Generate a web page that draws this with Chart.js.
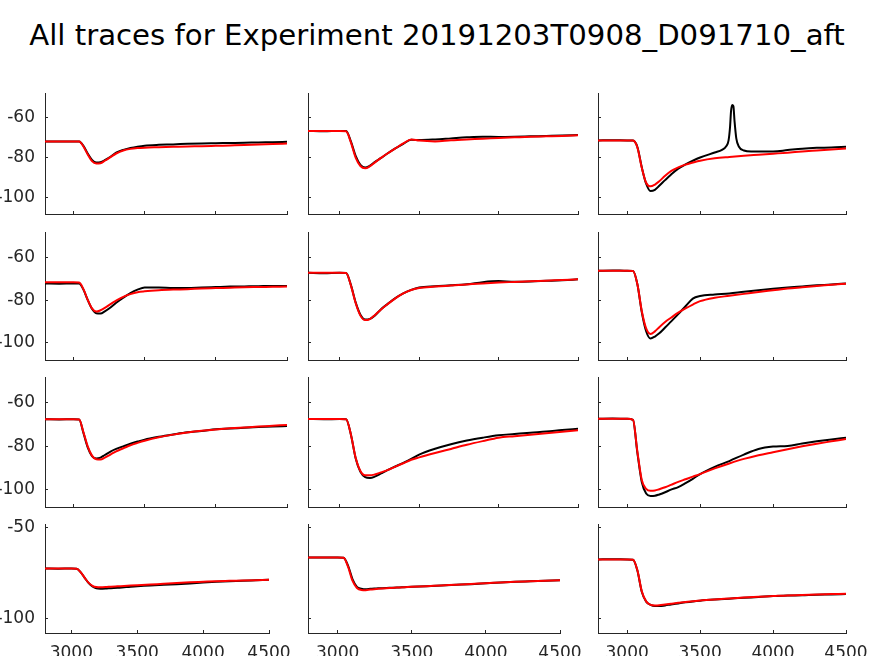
<!DOCTYPE html>
<html>
<head>
<meta charset="utf-8">
<script src="https://cdn.jsdelivr.net/npm/chart.js@4/dist/chart.umd.min.js"></script>
<style>
body { margin: 0; background: #fff; width: 874px; height: 656px; overflow: hidden; position: relative; font-family: "DejaVu Sans"; }
#title { position: absolute; left: 0; top: 21px; width: 874px; text-align: center; font-size: 29.2px; line-height: 29px; color: #000; white-space: nowrap; }
canvas { position: absolute; }
</style>
</head>
<body>
<div id="title">All traces for Experiment 20191203T0908_D091710_aft</div>
<script>
// time axis shared by all panels
var xs = [2800, 2900, 3000, 3040, 3070, 3100, 3130, 3160, 3190, 3220, 3260, 3300, 3350, 3400, 3450, 3500, 3600, 3700, 3800, 3900, 4000, 4100, 4200, 4300, 4400, 4500];
// panel 1,3 black trace has the spike, so it gets a denser axis
var xsSpike = [2800, 2900, 3000, 3040, 3070, 3100, 3130, 3160, 3190, 3220, 3260, 3300, 3350, 3400, 3450, 3500, 3600, 3650, 3680, 3695, 3705, 3712, 3720, 3728, 3736, 3748, 3765, 3800, 3850, 3900, 4000, 4100, 4200, 4300, 4400, 4500];

var xTicks = [3000, 3500, 4000, 4500];
var yTicks = [-100, -80, -60];
var yTicksLast = [-100, -50];
var yMin = -108, yMax = -48;

// row 1
var black11 = [-72, -72, -72, -72.1, -74.2, -78, -81.2, -82.5, -82.3, -81.3, -79.6, -77.6, -76.2, -75.3, -74.6, -74.1, -73.7, -73.5, -73.2, -73, -72.9, -72.8, -72.7, -72.5, -72.4, -72.2];
var red11   = [-72, -72, -72, -72.1, -74.5, -78.5, -81.8, -82.9, -82.8, -81.6, -79.8, -78, -76.5, -75.7, -75.3, -75.1, -74.9, -74.7, -74.5, -74.4, -74.2, -74.0, -73.8, -73.5, -73.3, -73.0];
var black12 = [-66.8, -67, -66.8, -66.9, -72, -79.2, -83.6, -85, -84, -82.3, -80.2, -78, -75.5, -73.2, -71.2, -71.3, -71, -70.5, -70, -69.7, -69.8, -69.7, -69.5, -69.3, -69.1, -68.8];
var red12   = [-66.8, -66.8, -66.8, -67, -72.5, -80, -84.2, -85.3, -84.3, -82.5, -80.2, -78, -75.5, -73, -71, -71.6, -72.0, -71.4, -71.0, -70.7, -70.3, -70.0, -69.7, -69.5, -69.3, -69.0];
var black13 = [-71.5, -71.4, -71.5, -71.6, -74.8, -84.8, -93, -96.6, -96, -94, -91.2, -88.5, -85.5, -83.4, -81.6, -80, -77.5, -76.2, -74.3, -71.5, -65, -57, -54, -54.5, -62, -70.5, -74.5, -76.5, -77, -77, -77, -76.3, -75.6, -75.2, -75, -74.6];
var red13   = [-71.5, -71.5, -71.5, -71.6, -75, -85, -92.5, -94.3, -93.4, -91.8, -89, -86.7, -84.9, -83.5, -82.5, -81.6, -80.4, -79.7, -79.1, -78.6, -78.1, -77.6, -77.0, -76.5, -76.0, -75.5];
// row 2
var black21 = [-72.1, -72.2, -72.1, -72.2, -75, -79.8, -84, -86.1, -86.2, -85.2, -83.4, -81.2, -78.8, -76.6, -75, -74, -74, -74.3, -74.3, -74, -73.8, -73.6, -73.5, -73.4, -73.3, -73.3];
var red21   = [-71.6, -71.6, -71.6, -71.7, -74.8, -79.8, -83.8, -85.3, -84.7, -83.6, -81.8, -80.2, -78.4, -77.1, -76.2, -75.8, -75.3, -75.0, -74.8, -74.5, -74.3, -74.1, -73.9, -73.8, -73.7, -73.6];
var black22 = [-67.1, -67.3, -67.1, -67.2, -72.8, -81, -86.8, -89, -88.7, -87.2, -84.2, -81.8, -79, -76.8, -75.1, -74, -73.4, -73, -72.5, -71.5, -71, -71.3, -71.2, -70.9, -70.6, -70.2];
var red22   = [-67.1, -67.1, -67.1, -67.2, -73, -81.3, -87.2, -89.3, -88.8, -87, -84.3, -81.9, -79.1, -76.8, -75.2, -74.2, -73.6, -73.1, -72.6, -72.1, -71.7, -71.4, -71.1, -70.8, -70.5, -70.2];
var black23 = [-66.2, -66, -66.2, -66.3, -72.5, -85.5, -94.5, -97.9, -97, -95.5, -92.8, -90, -86.5, -82.8, -79.2, -78, -77.3, -76.8, -76, -75.3, -74.6, -74, -73.5, -73, -72.6, -72.1];
var red23   = [-66.2, -66.2, -66.2, -66.3, -72.5, -85, -93.2, -95.8, -94.6, -92.6, -90.2, -88.2, -85.8, -83.8, -82, -80.4, -78.8, -77.9, -77, -76.1, -75.3, -74.5, -73.9, -73.3, -72.7, -72.2];
// row 3
var black31 = [-67.5, -67.6, -67.5, -67.6, -73.8, -80.5, -84.5, -85.6, -85.2, -84, -82.4, -81.2, -80, -78.8, -77.8, -76.9, -75.6, -74.5, -73.5, -72.9, -72.1, -71.8, -71.4, -71.1, -70.9, -70.6];
var red31   = [-67.5, -67.5, -67.5, -67.6, -73.5, -80, -84.3, -86, -86.1, -85.2, -83.8, -82.3, -80.9, -79.5, -78.4, -77.4, -75.8, -74.6, -73.6, -72.8, -72.2, -71.7, -71.3, -70.9, -70.5, -70.1];
var black32 = [-67.4, -67.5, -67.4, -67.5, -74.5, -85.5, -91.8, -94.2, -94.6, -94, -92.5, -91, -89.3, -87.6, -85.8, -83.8, -81.1, -79, -77.3, -76, -74.9, -74.3, -73.7, -73.2, -72.5, -71.9];
var red32   = [-67.4, -67.4, -67.4, -67.5, -74.5, -85.3, -91.4, -93.4, -93.4, -93, -92, -91, -89.4, -87.8, -86.2, -85.1, -83.1, -81.2, -79.3, -77.6, -76.0, -75.3, -74.6, -74.0, -73.3, -72.6];
var black33 = [-67.3, -67.2, -67.3, -67.8, -83, -96.5, -101.8, -102.9, -102.8, -102.2, -101.2, -100, -98.8, -97, -95, -92.8, -89.5, -86.8, -83.8, -81.2, -80.1, -79.8, -78.7, -77.7, -76.8, -76];
var red33   = [-67.3, -67.3, -67.3, -67.8, -82.5, -95.5, -99.6, -100.5, -100.4, -99.8, -98.9, -97.8, -96.4, -95.2, -94, -92.8, -90.2, -87.9, -85.8, -84.1, -82.7, -81.3, -80, -78.8, -77.7, -76.6];
// row 4
var black41 = [-72.5, -72.6, -72.5, -72.6, -74.5, -77.5, -80.4, -82.3, -83.4, -83.6, -83.5, -83.3, -83.1, -82.8, -82.5, -82.3, -81.8, -81.4, -81.1, -80.7, -80.2, -79.8, -79.5, -79.3, -79, -78.7];
var red41   = [-72.5, -72.5, -72.5, -72.6, -74.5, -77.5, -80.3, -82, -82.7, -82.8, -82.7, -82.5, -82.3, -82.1, -81.9, -81.7, -81.3, -80.9, -80.5, -80.1, -79.8, -79.5, -79.3, -79.1, -78.9, -78.7];
var black42 = [-66.4, -66.4, -66.4, -66.6, -70.9, -78.3, -82.6, -83.6, -83.9, -83.7, -83.5, -83.3, -83.1, -83, -82.8, -82.6, -82.3, -81.9, -81.5, -81.1, -80.6, -80.2, -79.8, -79.5, -79.2, -78.9];
var red42   = [-66.4, -66.4, -66.4, -66.6, -71.5, -79.2, -83.2, -84.3, -84.4, -84.1, -83.8, -83.5, -83.2, -83, -82.8, -82.6, -82.2, -81.8, -81.4, -81, -80.6, -80.2, -79.8, -79.5, -79.2, -78.9];
var black43 = [-67.5, -67.4, -67.5, -67.7, -73.6, -85.3, -90.7, -92.5, -93.2, -93.2, -92.8, -92.3, -91.7, -91.1, -90.6, -90.2, -89.6, -89.1, -88.6, -88.2, -87.7, -87.4, -87.2, -86.9, -86.8, -86.6];
var red43   = [-67.5, -67.5, -67.5, -67.7, -73.5, -85, -90.6, -92.5, -92.8, -92.7, -92.3, -91.9, -91.4, -90.9, -90.5, -90.1, -89.5, -89, -88.5, -88.1, -87.7, -87.3, -87.1, -86.8, -86.6, -86.4];

// subplot boxes (pixels)
var rowTop = [93, 232, 377, 524];
var rowBottom = [214, 360, 507, 633];
var colLeft = [45, 308, 598];
var colRight = [287, 578, 846];
var colRightLast = [269, 560, 846];

var panels = [
	[black11, red11, xs], [black12, red12, xs], [black13, red13, xsSpike],
	[black21, red21, xs], [black22, red22, xs], [black23, red23, xs],
	[black31, red31, xs], [black32, red32, xs], [black33, red33, xs],
	[black41, red41, xs], [black42, red42, xs], [black43, red43, xs]
];

var axisColor = '#262626';
var padL = 50, padR = 40, padT = 30, padB = 30;

function pts(xv, yv) {
	return yv.map(function (y, i) { return {x: xv[i], y: y}; });
}

Chart.defaults.font.family = 'DejaVu Sans';

panels.forEach(function (p, k) {
	var row = Math.floor(k / 3), col = k % 3;
	var last = row === 3;
	var x0 = colLeft[col], x1 = (last ? colRightLast : colRight)[col];
	var y0 = rowTop[row], y1 = rowBottom[row];

	var cv = document.createElement('canvas');
	cv.width = x1 - x0 + padL + padR;
	cv.height = y1 - y0 + padT + padB;
	cv.style.left = (x0 - padL) + 'px';
	cv.style.top = (y0 - padT) + 'px';
	document.body.appendChild(cv);

	new Chart(cv, {
		type: 'line',
		data: {
			datasets: [{
				data: pts(p[2], p[0]),
				borderColor: '#000000',
				borderWidth: 2,
				pointRadius: 0,
				cubicInterpolationMode: 'monotone',
				order: 2
			}, {
				data: pts(xs, p[1]),
				borderColor: '#ff0000',
				borderWidth: 2,
				pointRadius: 0,
				cubicInterpolationMode: 'monotone',
				order: 1
			}]
		},
		options: {
			responsive: false,
			animation: false,
			events: [],
			layout: { padding: { top: padT, right: padR, left: 0, bottom: 0 } },
			plugins: { legend: { display: false }, tooltip: { enabled: false } },
			scales: {
				x: {
					type: 'linear',
					min: 2800,
					max: 4500,
					afterBuildTicks: function (s) { s.ticks = xTicks.map(function (v) { return {value: v}; }); },
					afterFit: function (s) { s.height = padB; },
					grid: { drawOnChartArea: false, drawTicks: true, tickLength: -3, color: axisColor },
					border: { color: axisColor, width: 1 },
					ticks: {
						display: last,
						padding: 13,
						color: axisColor,
						font: { size: 17 },
						maxRotation: 0,
						autoSkip: false,
						callback: function (v) { return String(v); }
					}
				},
				y: {
					type: 'linear',
					min: yMin,
					max: yMax,
					afterBuildTicks: function (s) { s.ticks = (last ? yTicksLast : yTicks).map(function (v) { return {value: v}; }); },
					afterFit: function (s) { s.width = padL; },
					grid: { drawOnChartArea: false, drawTicks: true, tickLength: -3, color: axisColor },
					border: { color: axisColor, width: 1 },
					ticks: {
						display: col === 0,
						padding: 13,
						color: axisColor,
						font: { size: 17 },
						autoSkip: false,
						callback: function (v) { return String(v); }
					}
				}
			}
		}
	});
});
</script>
</body>
</html>
